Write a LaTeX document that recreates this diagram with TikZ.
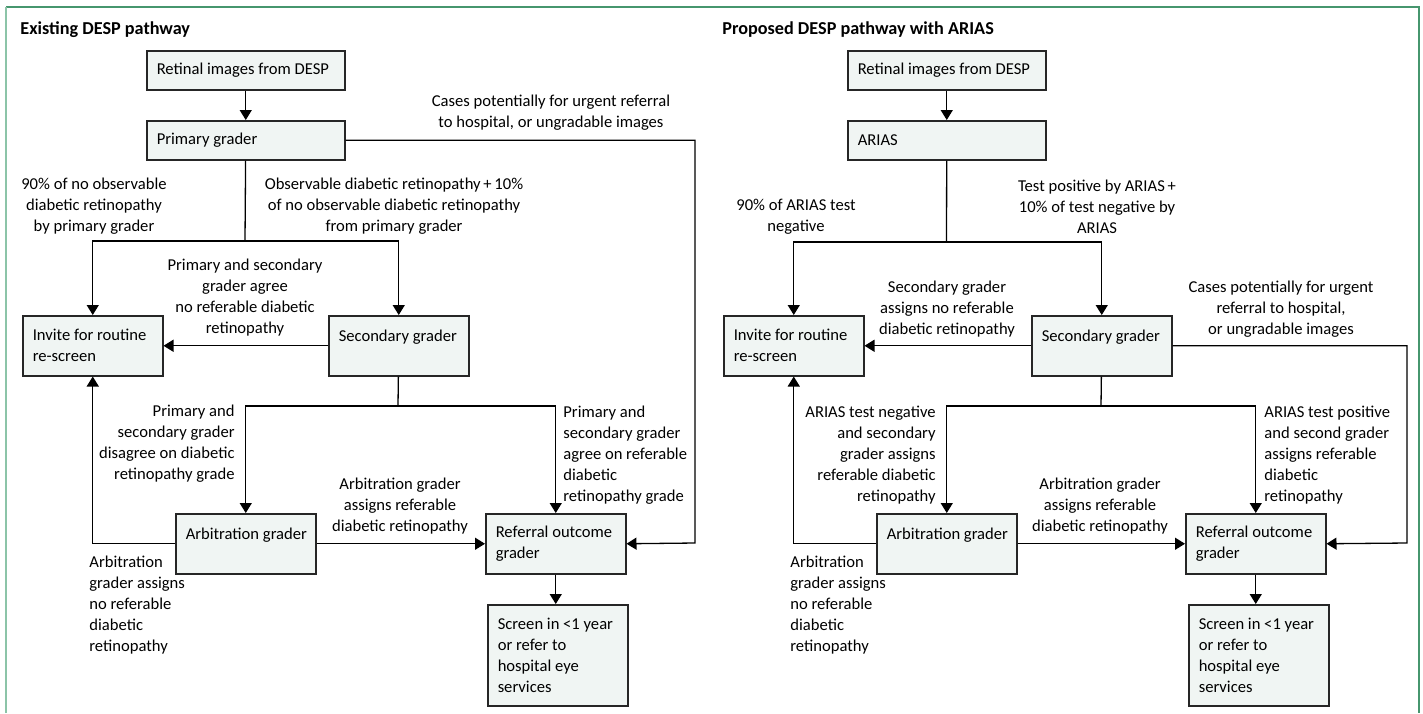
\documentclass[tikz,border=0pt]{standalone}
\usepackage{fontspec}
\setmainfont{Carlito}
\usepackage{tikz}
\usetikzlibrary{arrows.meta}
\usepackage{xcolor}
\definecolor{boxfill}{RGB}{240,245,243}
\definecolor{framegreen}{RGB}{70,150,110}
\definecolor{framelight}{RGB}{140,196,168}
\tikzset{>={Triangle[length=5pt,width=6pt]}}
\hyphenpenalty=10000

\begin{document}
\begin{tikzpicture}[x=0.5pt,y=-0.5pt]
  % coordinates are in pixels of the 1423 x 713 frame
  \tikzstyle{every node}=[font=\fontsize{8.3}{10.5}\selectfont, inner sep=0pt]
  \tikzstyle{box}=[draw=black!85, fill=boxfill, line width=0.75pt, anchor=north west, align=flush left, inner xsep=5pt, inner ysep=2pt]
  \tikzstyle{wide}=[text width=89pt, minimum width=99pt, minimum height=19.5pt]
  \tikzstyle{small}=[text width=60pt, minimum width=70pt, minimum height=30pt]
  \tikzstyle{tall}=[text width=60pt, minimum width=70pt, minimum height=50.5pt]
  \tikzstyle{conn}=[->, line width=0.65pt]
  \tikzstyle{title}=[font=\fontsize{9.1}{10.5}\selectfont\bfseries, anchor=west]
  \useasboundingbox (0,0) rectangle (1423,713);
  \draw[framegreen, line width=0.8pt] (6,7) -- (1419,7) -- (1419,713);
  \draw[framelight, line width=1.3pt] (6,713) -- (6,7);

  % existing pathway
  \node[title] (titleL) at (20,30) {Existing DESP pathway};
  \node[box, wide] (retL) at (146,50) {Retinal images from DESP};
  \node[box, wide] (priL) at (146,120) {Primary grader};
  \node[box, small] (invL) at (22,315) {Invite for routine\\re-screen};
  \node[box, small] (secL) at (328,315) {\mbox{Secondary grader}\\\mbox{}};
  \node[box, small] (arbL) at (175,513) {\mbox{Arbitration grader}\\\mbox{}};
  \node[box, small] (refL) at (485,513) {Referral outcome\\grader};
  \node[box, tall] (scrL) at (487,604) {Screen in <1 year\\or refer to\\hospital eye\\services};
  \coordinate (splitL) at (245,241);
  \coordinate (split2L) at (398,406);
  \coordinate (urgL) at (695,543);

  \draw[conn] (retL) -- (priL);
  \draw[line width=0.65pt] (priL) -- (splitL);
  \draw[conn] (splitL) -| (invL);
  \draw[conn] (splitL) -| (secL);
  \draw[conn] (secL) -- (invL);
  \draw[line width=0.65pt] (secL) -- (split2L);
  \draw[conn] (split2L) -| (arbL);
  \draw[conn] (split2L) -| (refL);
  \draw[conn] (arbL) -| (invL);
  \draw[conn] (arbL) -- (refL);
  \draw[conn] (priL.east) -| (urgL) -- (refL.east);
  \draw[conn] (refL.south) -- (refL.south |- scrL.north);

  \node[align=flush center] (t90L) at (94,206) {90\% of no observable\\diabetic retinopathy\\by primary grader};
  \node[align=flush center] (tobsL) at (394,206) {Observable diabetic retinopathy\,+\,10\%\\of no observable diabetic retinopathy\\from primary grader};
  \node[align=flush center] (tagrL) at (245,298) {Primary and secondary\\grader agree\\no referable diabetic\\retinopathy};
  \node[align=flush center] (turgL) at (551,113) {Cases potentially for urgent referral\\to hospital, or ungradable images};
  \node[align=flush right, anchor=east] (tdisL) at (235,444) {Primary and\\secondary grader\\disagree on diabetic\\retinopathy grade};
  \node[align=flush left, anchor=west] (tagr2L) at (563,455) {Primary and\\secondary grader\\agree on referable\\diabetic\\retinopathy grade};
  \node[align=flush center] (tarbL) at (400,506) {Arbitration grader\\assigns referable\\diabetic retinopathy};
  \node[align=flush left, anchor=west] (tnoL) at (89,605) {Arbitration\\grader assigns\\no referable\\diabetic\\retinopathy};

  % proposed pathway
  \node[title] (titleR) at (722,30) {Proposed DESP pathway with ARIAS};
  \node[box, wide] (retR) at (847,50) {Retinal images from DESP};
  \node[box, wide] (ariR) at (847,120) {ARIAS};
  \node[box, small] (invR) at (723,315) {Invite for routine\\re-screen};
  \node[box, small] (secR) at (1031,315) {\mbox{Secondary grader}\\\mbox{}};
  \node[box, small] (arbR) at (876,513) {\mbox{Arbitration grader}\\\mbox{}};
  \node[box, small] (refR) at (1185,513) {Referral outcome\\grader};
  \node[box, tall] (scrR) at (1188,604) {Screen in <1 year\\or refer to\\hospital eye\\services};
  \coordinate (splitR) at (946.5,242);
  \coordinate (split2R) at (1101,406);
  \coordinate (urgR) at (1407,543);

  \draw[conn] (retR) -- (ariR);
  \draw[line width=0.65pt] (ariR) -- (splitR);
  \draw[conn] (splitR) -| (invR);
  \draw[conn] (splitR) -| (secR);
  \draw[conn] (secR) -- (invR);
  \draw[line width=0.65pt] (secR) -- (split2R);
  \draw[conn] (split2R) -| (arbR);
  \draw[conn] (split2R) -| (refR);
  \draw[conn] (arbR) -| (invR);
  \draw[conn] (arbR) -- (refR);
  \draw[conn] (secR.east) -| (urgR) -- (refR.east);
  \draw[conn] (refR.south) -- (refR.south |- scrR.north);

  \node[align=flush center] (t90R) at (796,217) {90\% of ARIAS test\\negative};
  \node[align=flush center] (tposR) at (1097,207) {Test positive by ARIAS\,+\\10\% of test negative by\\ARIAS};
  \node[align=flush center] (tsecR) at (947,309) {Secondary grader\\assigns no referable\\diabetic retinopathy};
  \node[align=flush center] (turgR) at (1281,309) {Cases potentially for urgent\\referral to hospital,\\or ungradable images};
  \node[align=flush right, anchor=east] (tnegR) at (936,455) {ARIAS test negative\\and secondary\\grader assigns\\referable diabetic\\retinopathy};
  \node[align=flush left, anchor=west] (tpos2R) at (1264,455) {ARIAS test positive\\and second grader\\assigns referable\\diabetic\\retinopathy};
  \node[align=flush center] (tarbR) at (1100,506) {Arbitration grader\\assigns referable\\diabetic retinopathy};
  \node[align=flush left, anchor=west] (tnoR) at (790,605) {Arbitration\\grader assigns\\no referable\\diabetic\\retinopathy};
\end{tikzpicture}
\end{document}
